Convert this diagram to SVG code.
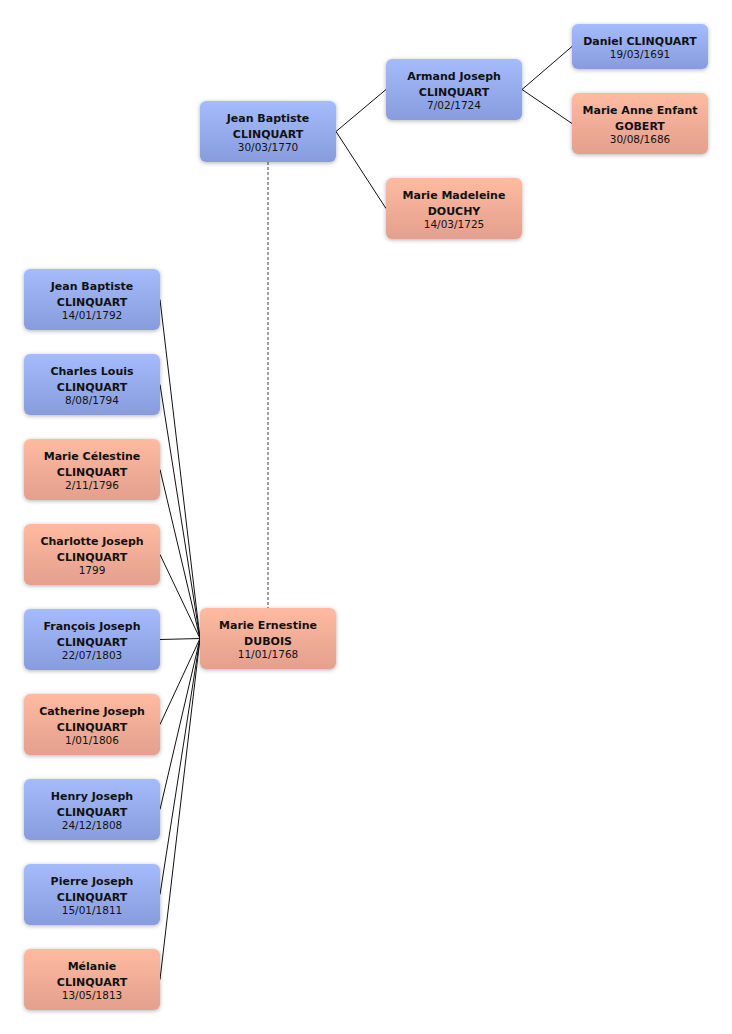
<svg xmlns="http://www.w3.org/2000/svg" width="732" height="1034" viewBox="0 0 732 1034">
<style>
.b{stroke:none;}
.m{fill:url(#gm);filter:url(#sh);}
.f{fill:url(#gf);filter:url(#sh);}
.n{font-family:"DejaVu Sans",sans-serif;font-size:11px;font-weight:bold;fill:#111;text-anchor:middle;}
.d{font-family:"DejaVu Sans",sans-serif;font-size:10.5px;fill:#111;text-anchor:middle;}
.c{stroke:#111;stroke-width:1;fill:none;}
.dot{stroke:#888;stroke-width:1.6;stroke-dasharray:3,2;fill:none;}
</style>
<defs>
<linearGradient id="gm" x1="0" y1="0" x2="0" y2="1">
<stop offset="0" stop-color="#a5bbfc"/>
<stop offset="1" stop-color="#889cdd"/>
</linearGradient>
<linearGradient id="gf" x1="0" y1="0" x2="0" y2="1">
<stop offset="0" stop-color="#ffbaa1"/>
<stop offset="1" stop-color="#e49f8e"/>
</linearGradient>
<filter id="sh" x="-20%" y="-30%" width="140%" height="160%">
<feDropShadow dx="0" dy="1" stdDeviation="2" flood-color="#000" flood-opacity="0.3"/>
</filter>
</defs>
<rect width="732" height="1034" fill="#fff"/>
<g id="connectors">
<line class="dot" x1="268" y1="162" x2="268" y2="608"/>
<polyline class="c" points="386,89.5 336,131.5 386,208.5"/>
<polyline class="c" points="572,46.5 522,89.5 572,123.5"/>
<line class="c" x1="160" y1="299.5" x2="200" y2="638.5"/>
<line class="c" x1="160" y1="384.5" x2="200" y2="638.5"/>
<line class="c" x1="160" y1="469.5" x2="200" y2="638.5"/>
<line class="c" x1="160" y1="554.5" x2="200" y2="638.5"/>
<line class="c" x1="160" y1="639.5" x2="200" y2="638.5"/>
<line class="c" x1="160" y1="724.5" x2="200" y2="638.5"/>
<line class="c" x1="160" y1="809.5" x2="200" y2="638.5"/>
<line class="c" x1="160" y1="894.5" x2="200" y2="638.5"/>
<line class="c" x1="160" y1="979.5" x2="200" y2="638.5"/>
</g>
<g id="p1"><rect class="m" x="200" y="101" width="136" height="61" rx="6"/><text class="n" x="268" y="122">Jean Baptiste</text><text class="n" x="268" y="137.5">CLINQUART</text><text class="d" x="268" y="151">30/03/1770</text></g>
<g id="p2"><rect class="m" x="386" y="59" width="136" height="61" rx="6"/><text class="n" x="454" y="80">Armand Joseph</text><text class="n" x="454" y="95.5">CLINQUART</text><text class="d" x="454" y="109">7/02/1724</text></g>
<g id="p3"><rect class="f" x="386" y="178" width="136" height="61" rx="6"/><text class="n" x="454" y="199">Marie Madeleine</text><text class="n" x="454" y="214.5">DOUCHY</text><text class="d" x="454" y="228">14/03/1725</text></g>
<g id="p4"><rect class="m" x="572" y="24" width="136" height="45" rx="6"/><text class="n" x="640" y="45">Daniel CLINQUART</text><text class="d" x="640" y="57.5">19/03/1691</text></g>
<g id="p5"><rect class="f" x="572" y="93" width="136" height="61" rx="6"/><text class="n" x="640" y="114">Marie Anne Enfant</text><text class="n" x="640" y="129.5">GOBERT</text><text class="d" x="640" y="143">30/08/1686</text></g>
<g id="spouse"><rect class="f" x="200" y="608" width="136" height="61" rx="6"/><text class="n" x="268" y="629">Marie Ernestine</text><text class="n" x="268" y="644.5">DUBOIS</text><text class="d" x="268" y="658">11/01/1768</text></g>
<g id="c1"><rect class="m" x="24" y="269" width="136" height="61" rx="6"/><text class="n" x="92" y="290">Jean Baptiste</text><text class="n" x="92" y="305.5">CLINQUART</text><text class="d" x="92" y="319">14/01/1792</text></g>
<g id="c2"><rect class="m" x="24" y="354" width="136" height="61" rx="6"/><text class="n" x="92" y="375">Charles Louis</text><text class="n" x="92" y="390.5">CLINQUART</text><text class="d" x="92" y="404">8/08/1794</text></g>
<g id="c3"><rect class="f" x="24" y="439" width="136" height="61" rx="6"/><text class="n" x="92" y="460">Marie Célestine</text><text class="n" x="92" y="475.5">CLINQUART</text><text class="d" x="92" y="489">2/11/1796</text></g>
<g id="c4"><rect class="f" x="24" y="524" width="136" height="61" rx="6"/><text class="n" x="92" y="545">Charlotte Joseph</text><text class="n" x="92" y="560.5">CLINQUART</text><text class="d" x="92" y="574">1799</text></g>
<g id="c5"><rect class="m" x="24" y="609" width="136" height="61" rx="6"/><text class="n" x="92" y="630">François Joseph</text><text class="n" x="92" y="645.5">CLINQUART</text><text class="d" x="92" y="659">22/07/1803</text></g>
<g id="c6"><rect class="f" x="24" y="694" width="136" height="61" rx="6"/><text class="n" x="92" y="715">Catherine Joseph</text><text class="n" x="92" y="730.5">CLINQUART</text><text class="d" x="92" y="744">1/01/1806</text></g>
<g id="c7"><rect class="m" x="24" y="779" width="136" height="61" rx="6"/><text class="n" x="92" y="800">Henry Joseph</text><text class="n" x="92" y="815.5">CLINQUART</text><text class="d" x="92" y="829">24/12/1808</text></g>
<g id="c8"><rect class="m" x="24" y="864" width="136" height="61" rx="6"/><text class="n" x="92" y="885">Pierre Joseph</text><text class="n" x="92" y="900.5">CLINQUART</text><text class="d" x="92" y="914">15/01/1811</text></g>
<g id="c9"><rect class="f" x="24" y="949" width="136" height="61" rx="6"/><text class="n" x="92" y="970">Mélanie</text><text class="n" x="92" y="985.5">CLINQUART</text><text class="d" x="92" y="999">13/05/1813</text></g>
</svg>
